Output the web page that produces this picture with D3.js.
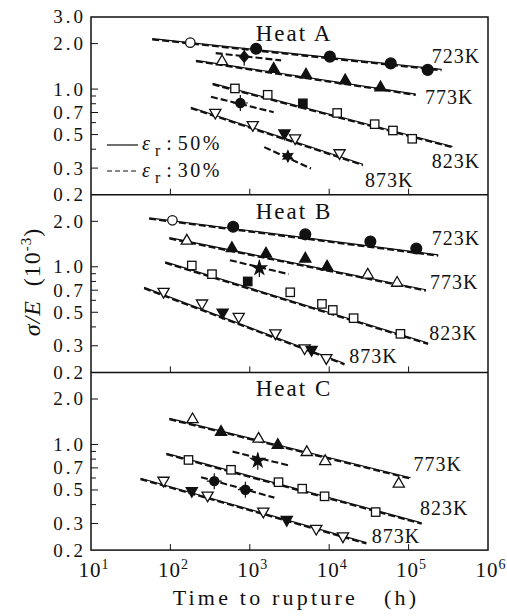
<!DOCTYPE html>
<html><head><meta charset="utf-8">
<script src="https://cdn.jsdelivr.net/npm/d3@7"></script>
<style>
body{margin:0;background:#fff}
svg{display:block}
svg text{font-family:"Liberation Serif",Tinos,"Times New Roman",Times,serif;fill:#111}
</style>
</head><body>
<svg id="c" width="507" height="616" font-family="Liberation Serif, Tinos, Times New Roman, serif"></svg>
<script>
// ---------- data ----------
const heats = ["Heat A", "Heat B", "Heat C"];
const xTickExp = [1, 2, 3, 4, 5, 6];
const yTickMinor = [0.3, 0.4, 0.5, 0.6, 0.7, 0.8, 0.9, 1.0, 2.0];
const yLabelsA = [3.0, 2.0, 1.0, 0.7, 0.5, 0.3, 0.2];
const yLabelsB = [2.0, 1.0, 0.7, 0.5, 0.3, 0.2];
const yLabelsC = [2.0, 1.0, 0.7, 0.5, 0.3, 0.2];

// fitted lines: [temp, t1, v1, t2, v2]  (eps_r 50% solid + 30% dashed overlapping)
const linesA = [["723K",59,2.16,260000,1.35],["773K",210,1.55,123000,0.927],["823K",340,1.09,358000,0.417],["873K",181,0.758,26600,0.318]];
const linesB = [["723K",54,2.11,236000,1.20],["773K",97,1.56,165000,0.705],["823K",86,1.077,176000,0.313],["873K",46.7,0.731,15600,0.229]];
const linesC = [["773K",97,1.49,106000,0.602],["823K",89,0.874,146000,0.303],["873K",42,0.598,29400,0.224]];

// short dashed lines (eps_r 30%)
const shortA = [["723K",372,1.73,2480,1.55],["823K",324,0.89,2000,0.703],["873K",1520,0.413,5900,0.298]];
const shortB = [["773K",562,1.105,3090,0.894]];
const shortC = [["773K",607,0.897,3160,0.725],["823K",243,0.608,2040,0.445]];

// points: [temp, t, v, style]  o = open, f = filled, x = 30% symbol
const ptsA = [
 ["723K",178,2.03,"o"],["723K",1200,1.85,"f"],["723K",10200,1.64,"f"],["723K",59600,1.48,"f"],["723K",174000,1.34,"f"],
 ["723K",850,1.64,"x"],
 ["773K",447,1.54,"o"],["773K",2000,1.37,"f"],["773K",5100,1.255,"f"],["773K",15900,1.15,"f"],["773K",44300,1.035,"f"],
 ["823K",650,1.01,"o"],["823K",1680,0.917,"o"],["823K",4660,0.805,"f"],["823K",12600,0.695,"o"],["823K",37400,0.586,"o"],["823K",63500,0.532,"o"],["823K",111000,0.469,"o"],
 ["823K",760,0.809,"x"],
 ["873K",368,0.692,"o"],["873K",1090,0.574,"o"],["873K",2730,0.506,"f"],["873K",3720,0.469,"o"],["873K",13500,0.374,"o"],
 ["873K",3020,0.359,"x"]
];
const ptsB = [
 ["723K",106,2.03,"o"],["723K",617,1.84,"f"],["723K",5000,1.64,"f"],["723K",33000,1.47,"f"],["723K",125000,1.32,"f"],
 ["773K",161,1.50,"o"],["773K",595,1.34,"f"],["773K",1600,1.23,"f"],["773K",5000,1.14,"f"],["773K",9400,1.01,"f"],["773K",30600,0.894,"o"],["773K",71700,0.789,"o"],
 ["773K",1320,0.98,"x"],
 ["823K",186,1.02,"o"],["823K",334,0.894,"o"],["823K",942,0.80,"f"],["823K",3230,0.678,"o"],["823K",8100,0.568,"o"],["823K",11100,0.518,"o"],["823K",20300,0.457,"o"],["823K",78900,0.36,"o"],
 ["873K",82,0.678,"o"],["873K",250,0.568,"o"],["873K",455,0.495,"f"],["873K",725,0.464,"o"],["873K",2100,0.36,"o"],["873K",4900,0.287,"o"],["873K",6000,0.28,"f"],["873K",9200,0.247,"o"]
];
const ptsC = [
 ["773K",190,1.48,"o"],["773K",434,1.22,"f"],["773K",1290,1.10,"o"],["773K",2250,1.0,"f"],["773K",5220,0.897,"o"],["773K",8900,0.782,"o"],["773K",75200,0.555,"o"],
 ["773K",1260,0.782,"x"],
 ["823K",169,0.79,"o"],["823K",580,0.68,"o"],["823K",2300,0.563,"o"],["823K",4570,0.51,"o"],["823K",8750,0.454,"o"],["823K",38500,0.357,"o"],
 ["823K",357,0.572,"x"],["823K",880,0.502,"x"],
 ["873K",82,0.572,"o"],["873K",186,0.489,"f"],["873K",294,0.456,"o"],["873K",1480,0.357,"o"],["873K",2920,0.315,"f"],["873K",6870,0.275,"o"],["873K",14900,0.245,"o"]
];

// temperature labels anchored in data space: [text, t, v]
const labelsA = [["723K",195000,1.495],["773K",161000,0.797],["823K",195000,0.301],["873K",28200,0.225]];
const labelsB = [["723K",195000,1.393],["773K",186000,0.713],["823K",182000,0.328],["873K",17900,0.2297]];
const labelsC = [["773K",115000,0.671],["823K",139000,0.341],["873K",34300,0.222]];

const legendItems = [["50%", "solid"], ["30%", "dash"]];

// ---------- layout ----------
const FONT = "Liberation Serif, Tinos, Times New Roman, serif";
const X0 = 91, X1 = 488, TOP = 17, PH = 177.7;
const svg = d3.select("#c");
const x = d3.scaleLog().domain([10, 1e6]).range([X0, X1]);

const panelData = [
  {lines: linesA, shorts: shortA, pts: ptsA, labels: labelsA, yl: yLabelsA},
  {lines: linesB, shorts: shortB, pts: ptsB, labels: labelsB, yl: yLabelsB},
  {lines: linesC, shorts: shortC, pts: ptsC, labels: labelsC, yl: yLabelsC}
];

function drawSymbol(g, cx, cy, temp, style) {
  const sw = 1.3;
  if (style === "x") {
    const fill = "#111";
    if (temp === "723K") {
      g.append("path").attr("d", `M${cx},${cy-6.5}L${cx+5.5},${cy}L${cx},${cy+6.5}L${cx-5.5},${cy}Z`).attr("fill", fill);
      g.append("line").attr("x1", cx).attr("x2", cx).attr("y1", cy-9).attr("y2", cy+9).attr("stroke", fill).attr("stroke-width", 1.2);
    } else if (temp === "773K") {
      g.append("path").attr("d", d3.symbol(d3.symbolStar, 95)()).attr("transform", `translate(${cx},${cy})`).attr("fill", fill);
      g.append("line").attr("x1", cx).attr("x2", cx).attr("y1", cy-8).attr("y2", cy+9).attr("stroke", fill).attr("stroke-width", 1.2);
    } else if (temp === "823K") {
      g.append("circle").attr("cx", cx).attr("cy", cy).attr("r", 5.2).attr("fill", fill);
      g.append("path").attr("d", `M${cx-7.5},${cy}H${cx+7.5}M${cx},${cy-8}V${cy+8}`).attr("stroke", fill).attr("stroke-width", 1.2);
    } else {
      const pts = [];
      for (let i = 0; i < 12; i++) {
        const r = i % 2 === 0 ? 7 : 3.6;
        const a = -Math.PI/2 + i*Math.PI/6;
        pts.push([cx + r*Math.cos(a), cy + r*Math.sin(a)]);
      }
      g.append("path").attr("d", "M" + pts.map(p => p.join(",")).join("L") + "Z").attr("fill", fill);
    }
    return;
  }
  const fill = style === "f" ? "#111" : "#fff";
  if (temp === "723K") {
    g.append("circle").attr("cx", cx).attr("cy", cy).attr("r", style === "f" ? 5.4 : 4.7)
      .attr("fill", fill).attr("stroke", "#111").attr("stroke-width", sw);
  } else if (temp === "773K") {
    g.append("path").attr("d", `M${cx},${cy-5.8}L${cx+5.6},${cy+3.9}L${cx-5.6},${cy+3.9}Z`)
      .attr("fill", fill).attr("stroke", "#111").attr("stroke-width", sw);
  } else if (temp === "823K") {
    g.append("rect").attr("x", cx-4.2).attr("y", cy-4.2).attr("width", 8.4).attr("height", 8.4)
      .attr("fill", fill).attr("stroke", "#111").attr("stroke-width", sw);
  } else {
    g.append("path").attr("d", `M${cx},${cy+5.8}L${cx+5.6},${cy-3.9}L${cx-5.6},${cy-3.9}Z`)
      .attr("fill", fill).attr("stroke", "#111").attr("stroke-width", sw);
  }
}

panelData.forEach((pd, i) => {
  const top = TOP + i*PH, bot = top + PH;
  const y = d3.scaleLog().domain([0.2, 3.0]).range([bot, top]);
  const g = svg.append("g");

  // y ticks (inward)
  yTickMinor.forEach(v => {
    const isLab = pd.yl.includes(v);
    g.append("line").attr("x1", X0).attr("x2", X0 + (isLab ? 7 : 5))
      .attr("y1", y(v)).attr("y2", y(v)).attr("stroke", "#111").attr("stroke-width", 1);
  });
  // x ticks (inward from bottom of each panel)
  xTickExp.slice(1, 5).forEach(e => {
    g.append("line").attr("x1", x(Math.pow(10, e))).attr("x2", x(Math.pow(10, e)))
      .attr("y1", bot).attr("y2", bot - 6).attr("stroke", "#111").attr("stroke-width", 1);
  });
  // y tick labels
  pd.yl.forEach(v => {
    g.append("text").attr("x", 86).attr("y", y(v)).attr("dy", "0.34em").attr("font-family", FONT)
      .attr("text-anchor", "end").attr("font-size", 19).attr("letter-spacing", 3)
      .text(v.toFixed(1));
  });

  // title
  g.append("text").attr("x", 294).attr("y", top + 24).attr("text-anchor", "middle").attr("font-family", FONT)
    .attr("font-size", 23).attr("letter-spacing", 2).text(heats[i]);

  // main lines: solid + dashed overlapping
  pd.lines.forEach(l => {
    g.append("line").attr("x1", x(l[1])).attr("y1", y(l[2])).attr("x2", x(l[3])).attr("y2", y(l[4]))
      .attr("stroke", "#111").attr("stroke-width", 1.2);
    g.append("line").attr("x1", x(l[1])).attr("y1", y(l[2]) + 0.9).attr("x2", x(l[3])).attr("y2", y(l[4]) + 0.9)
      .attr("stroke", "#111").attr("stroke-width", 2.1).attr("stroke-dasharray", "7,3");
  });
  pd.shorts.forEach(l => {
    g.append("line").attr("x1", x(l[1])).attr("y1", y(l[2])).attr("x2", x(l[3])).attr("y2", y(l[4]))
      .attr("stroke", "#111").attr("stroke-width", 2.1).attr("stroke-dasharray", "7,3");
  });

  pd.pts.forEach(p => drawSymbol(g, x(p[1]), y(p[2]), p[0], p[3]));

  pd.labels.forEach(l => {
    g.append("text").attr("x", x(l[1])).attr("y", y(l[2])).attr("font-size", 20).attr("font-family", FONT)
      .attr("letter-spacing", 1).text(l[0]);
  });

  if (i === 0) {
    const rows = [{yy: 145, base: 150}, {yy: 171, base: 177}];
    legendItems.forEach((it, k) => {
      const r = rows[k];
      const ln = g.append("line").attr("x1", 107).attr("x2", 138).attr("y1", r.yy).attr("y2", r.yy)
        .attr("stroke", "#111").attr("stroke-width", 1.2);
      if (it[1] === "dash") ln.attr("stroke-dasharray", "5,3");
      const t = g.append("text").attr("x", 142).attr("y", r.base).attr("font-size", 20).attr("font-family", FONT);
      t.append("tspan").attr("font-style", "italic").text("ε");
      t.append("tspan").attr("dx", 5).attr("dy", 6).attr("font-size", 16).text("r");
      t.append("tspan").attr("dx", 6).attr("dy", -6).text(":");
      t.append("tspan").attr("dx", 6).attr("letter-spacing", 2.5).text(it[0]);
    });
  }
});

// frame
const frameBot = TOP + 3*PH;
svg.append("rect").attr("x", X0).attr("y", TOP).attr("width", X1 - X0).attr("height", frameBot - TOP)
  .attr("fill", "none").attr("stroke", "#111").attr("stroke-width", 1.5);
[1, 2].forEach(k => svg.append("line").attr("x1", X0).attr("x2", X1)
  .attr("y1", TOP + k*PH).attr("y2", TOP + k*PH).attr("stroke", "#111").attr("stroke-width", 1.5));

// x tick labels
xTickExp.forEach(e => {
  const t = svg.append("text").attr("x", x(Math.pow(10, e)) + 3).attr("y", 577).attr("font-family", FONT)
    .attr("text-anchor", "middle").attr("font-size", 21).attr("letter-spacing", 1);
  t.append("tspan").text("10");
  t.append("tspan").attr("dy", -8).attr("font-size", 14).text(String(e));
});

// x title
svg.append("text").attr("x", 296).attr("y", 605).attr("text-anchor", "middle").attr("font-family", FONT)
  .attr("font-size", 22).attr("letter-spacing", 3.2)
  .style("white-space", "pre").text("Time to rupture   (h)");

// y title
const yt = svg.append("text").attr("transform", "translate(40,282) rotate(-90)").attr("font-family", FONT)
  .attr("text-anchor", "middle").attr("font-size", 24).attr("letter-spacing", 1).style("white-space", "pre");
yt.append("tspan").attr("font-style", "italic").text("σ/E");
yt.append("tspan").text("  (10");
yt.append("tspan").attr("dy", -9).attr("font-size", 15).text("-3");
yt.append("tspan").attr("dy", 9).text(")");
</script>
</body></html>
